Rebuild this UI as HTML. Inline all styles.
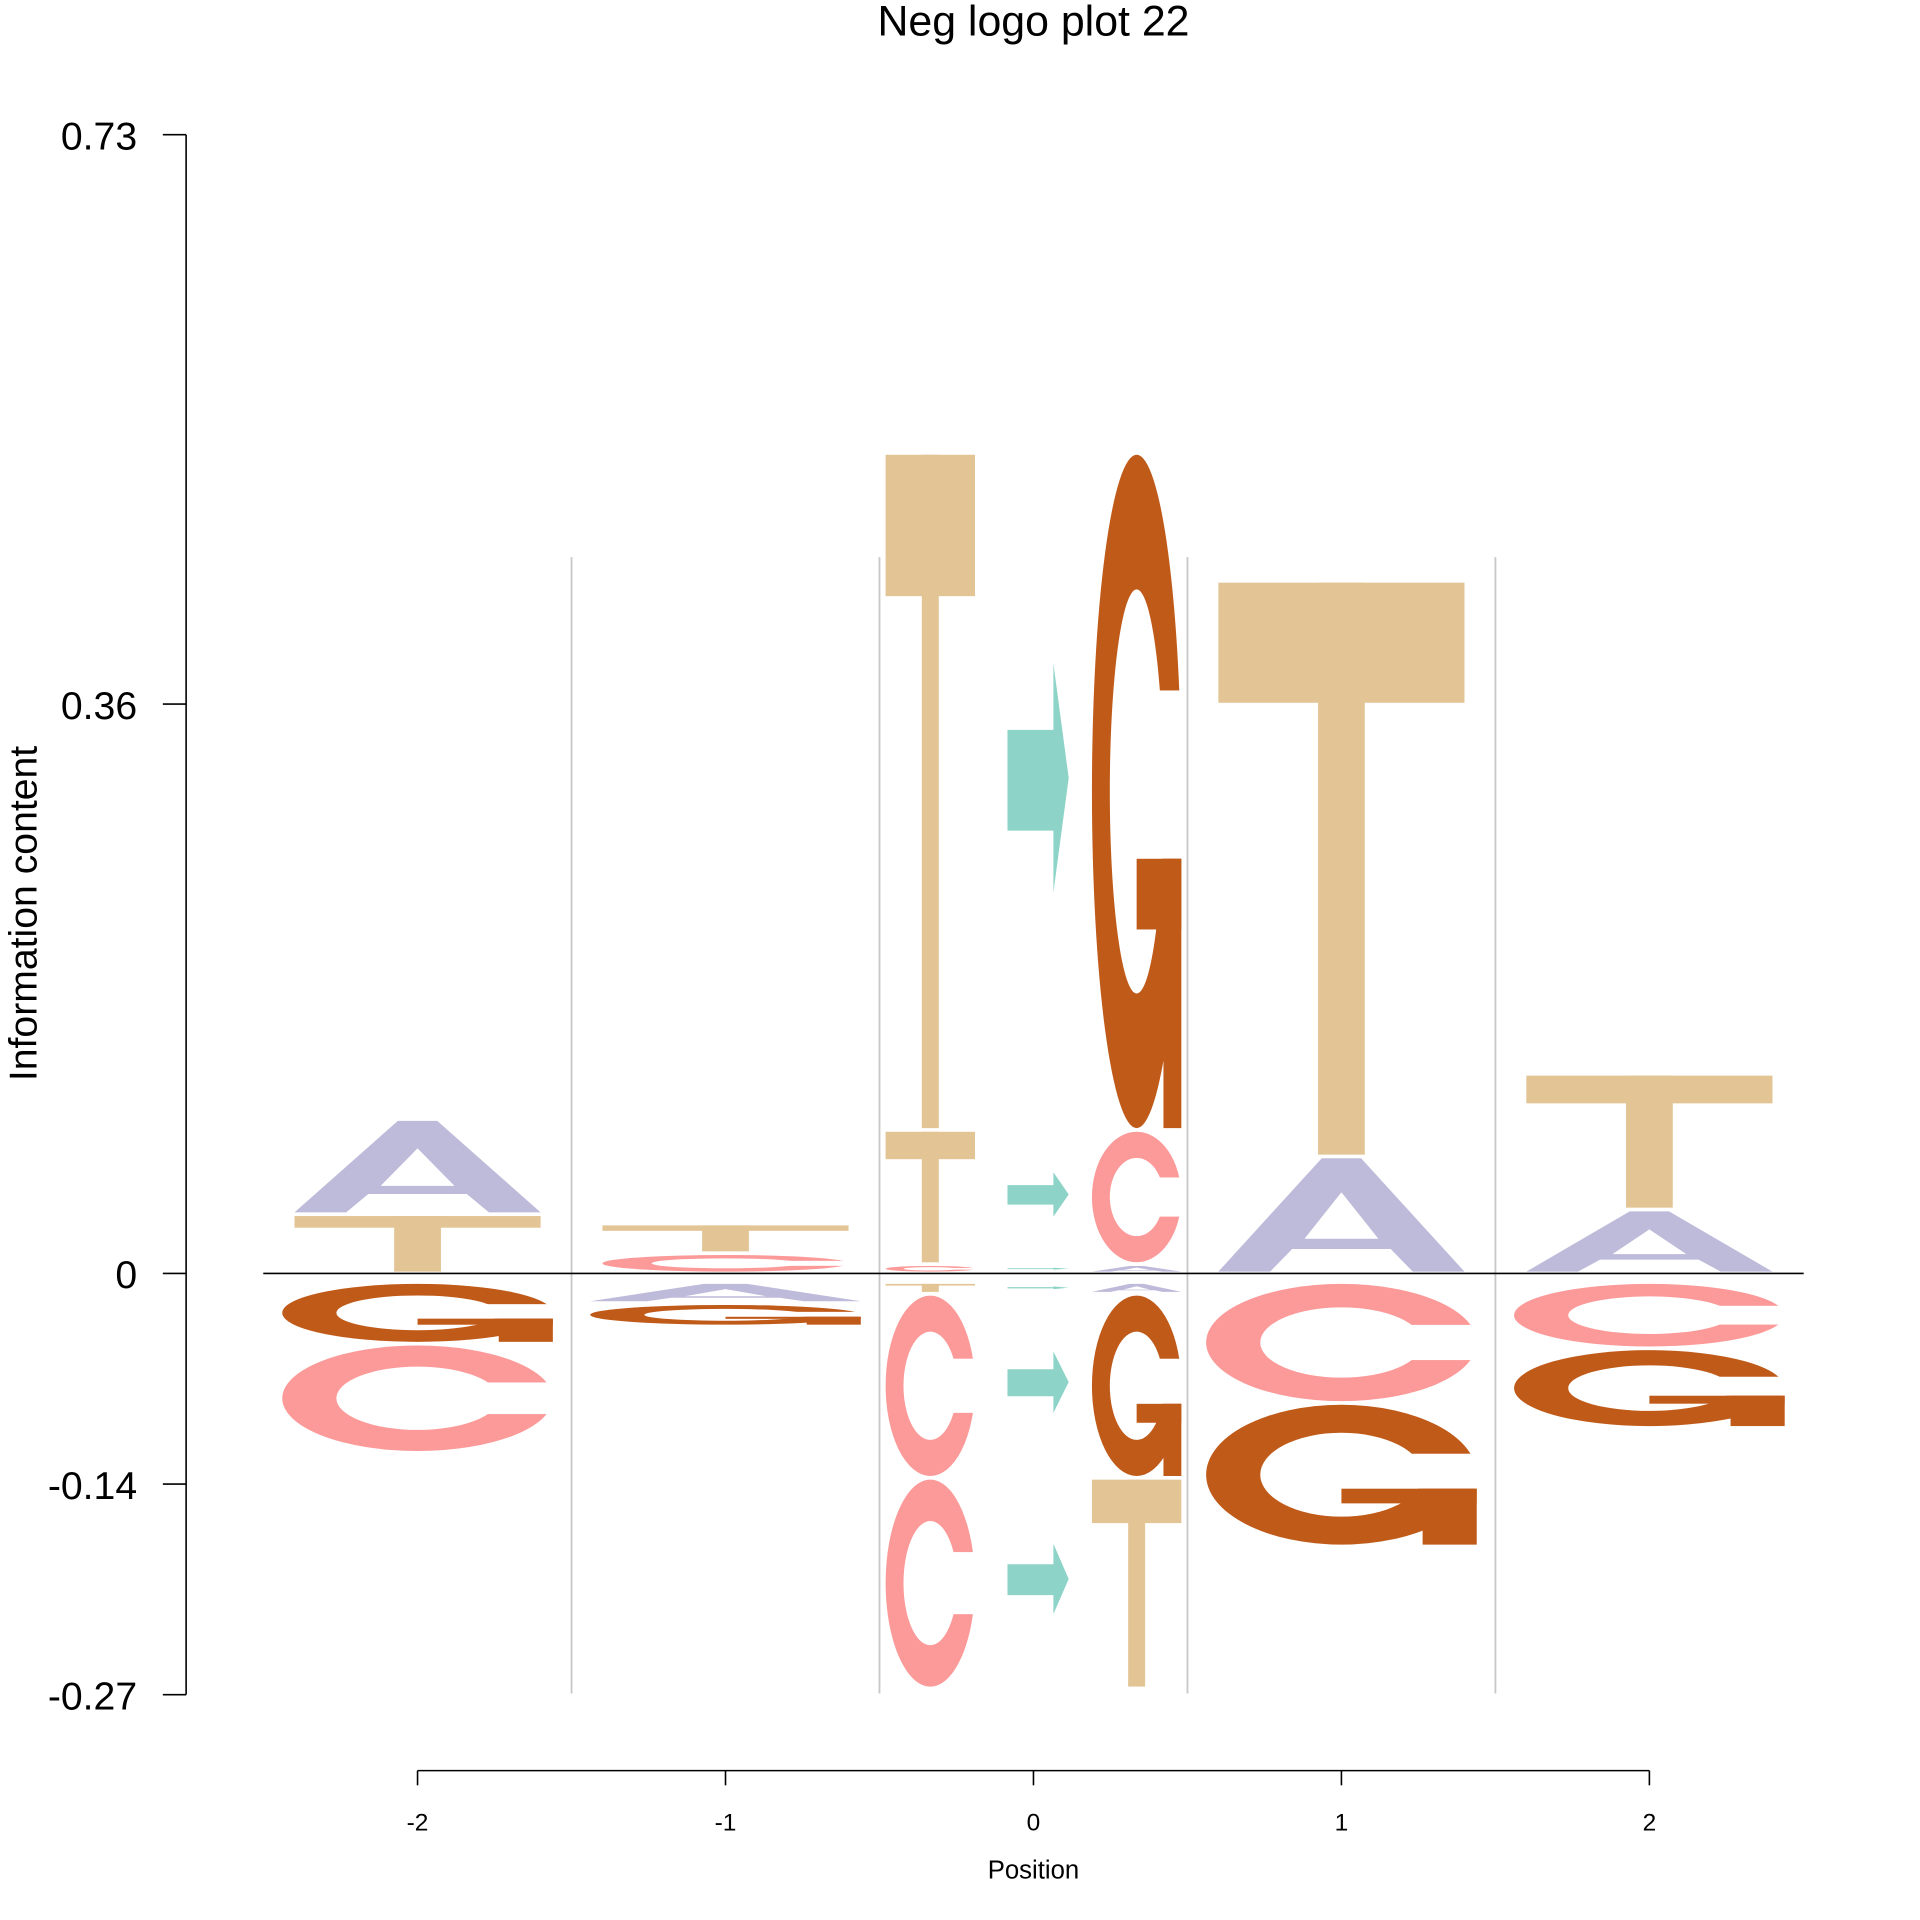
<!DOCTYPE html>
<html><head><meta charset="utf-8"><style>html,body{margin:0;padding:0;background:#fff}svg{display:block}</style></head>
<body>
<svg id="chart" width="1920" height="1920" viewBox="0 0 1568 1568" xmlns="http://www.w3.org/2000/svg" font-family="'Liberation Sans', Arial, sans-serif">
<text x="844" y="29" text-anchor="middle" font-size="35">Neg logo plot 22</text>
<text transform="translate(30,746) rotate(-90)" text-anchor="middle" font-size="32">Information content</text>
<text x="844" y="1534" text-anchor="middle" font-size="21">Position</text>
<g id="grid"></g><g id="marks"></g><g id="axes"></g>
</svg>
<script>
const positions = [-2, -1, -0.335, 0.015, 0.335, 1, 2];
const posLetters = [["T","A"],["C","T"],["C","T","T"],["R","R","R"],["A","C","G"],["A","T"],["A","T"]];
const posHeights = [[0.038,0.061],[0.013,0.019],[0.006,0.086,0.434],[0.006,0.086,0.434],[0.006,0.086,0.434],[0.075,0.369],[0.041,0.087]];
const negLetters = [["G","C"],["A","G"],["T","C","C"],["R","R","R"],["A","G","T"],["C","G"],["C","G"]];
const negHeights = [[0.045,0.07],[0.019,0.015],[0.013,0.118,0.135],[0.013,0.118,0.135],[0.013,0.118,0.135],[0.083,0.092],[0.048,0.051]];
const yTicks = [0.73, 0.365, 0, -0.135, -0.27];
const yTickLabels = ["0.73","0.36","0","-0.14","-0.27"];
const xTicks = [-2, -1, 0, 1, 2];
const xTickLabels = ["-2","-1","0","1","2"];
const gridPos = [-1.5, -0.5, 0.5, 1.5];

const NS = "http://www.w3.org/2000/svg";
const yScale = v => 1040 - v * (930 / 0.73);
const xScale = p => 844 + p * 251.5;
const colors = {T:"#E3C595", A:"#BEBADA", C:"#FB9A99", G:"#C05A19", R:"#8DD3C7"};
function mk(tag, attrs, parent){ const e=document.createElementNS(NS,tag); for(const k in attrs) e.setAttribute(k,attrs[k]); parent.appendChild(e); return e; }

const grid=document.getElementById('grid'), marks=document.getElementById('marks'), axes=document.getElementById('axes');
gridPos.forEach(g=>{
  const l=mk('line',{x1:xScale(g),x2:xScale(g),y1:455,y2:1383,stroke:'#c8c8c8','stroke-width':1.5},grid);
  
  
});

function glyph(letter, cx, w, top, bot, name){
  const g=mk('g',{},marks);
  
  
  const x0=cx-w/2, h=bot-top, col=colors[letter];
  if(h<=0) return;
  const X=f=>x0+f*w, Y=f=>top+f*h;
  if(letter==='T'){
    mk('rect',{x:x0,y:top,width:w,height:h*0.21,fill:col},g);
    mk('rect',{x:X(0.405),y:top,width:w*0.19,height:h,fill:col},g);
  } else if(letter==='A'){
    mk('path',{d:`M${X(0)},${Y(1)} L${X(0.42)},${Y(0)} L${X(0.58)},${Y(0)} L${X(1)},${Y(1)} L${X(0.79)},${Y(1)} L${X(0.7)},${Y(0.8)} L${X(0.3)},${Y(0.8)} L${X(0.21)},${Y(1)} Z M${X(0.35)},${Y(0.71)} L${X(0.5)},${Y(0.3)} L${X(0.65)},${Y(0.71)} Z`,fill:col,'fill-rule':'evenodd'},g);
  } else if(letter==='C' || letter==='G'){
    const cx2=x0+w/2, cy=top+h/2;
    mk('path',{d:`M${cx2-w/2},${cy} a${w/2},${h/2} 0 1,0 ${w},0 a${w/2},${h/2} 0 1,0 ${-w},0 Z M${cx2-w*0.3},${cy} a${w*0.3},${h*0.3} 0 1,0 ${w*0.6},0 a${w*0.3},${h*0.3} 0 1,0 ${-w*0.6},0 Z`,fill:col,'fill-rule':'evenodd'},g);
    if(letter==='C'){
      mk('rect',{x:X(0.74),y:Y(0.35),width:w*0.27,height:h*0.3,fill:'#fff'},g);
    } else {
      mk('rect',{x:X(0.74),y:Y(0.35),width:w*0.27,height:h*0.25,fill:'#fff'},g);
      mk('rect',{x:X(0.5),y:Y(0.6),width:w*0.5,height:h*0.105,fill:col},g);
      mk('rect',{x:X(0.8),y:Y(0.6),width:w*0.2,height:h*0.4,fill:col},g);
    }
  } else if(letter==='R'){
    const t=top+h*0.31, b=top+h*0.65, hh=b-t;
    mk('path',{d:`M${x0},${t+hh*0.29} L${X(0.75)},${t+hh*0.29} L${X(0.75)},${t} L${X(1)},${t+hh*0.5} L${X(0.75)},${b} L${X(0.75)},${t+hh*0.73} L${x0},${t+hh*0.73} Z`,fill:col},g);
  }
}

positions.forEach((p,i)=>{
  const cx=xScale(p);
  const narrow = (i>=2 && i<=4);
  const wp = i===3 ? 50 : (narrow ? 73 : 201);
  const wn = i===3 ? 50 : (narrow ? 73 : 221);
  let cum=0;
  posLetters[i].forEach((L,j)=>{
    const v0=cum, v1=cum+posHeights[i][j]; cum=v1;
    glyph(L,cx,wp,yScale(v1)+1.5,yScale(v0)-1.5,'pos-letter-'+L);
  });
  cum=0;
  negLetters[i].forEach((L,j)=>{
    const v0=cum, v1=cum-negHeights[i][j]; cum=v1;
    glyph(L,cx,wn,yScale(v0)+1.5+ (j===0?7:0),yScale(v1)-1.5,'neg-letter-'+L);
  });
});

const zl=mk('line',{x1:215,x2:1473,y1:yScale(0),y2:yScale(0),stroke:'#000','stroke-width':1.3},axes);


const ya=mk('line',{x1:152,x2:152,y1:yScale(yTicks[0]),y2:yScale(yTicks[yTicks.length-1]),stroke:'#000','stroke-width':1.3},axes);


yTicks.forEach((t,i)=>{
  const y=yScale(t);
  const tk=mk('line',{x1:133,x2:152,y1:y,y2:y,stroke:'#000','stroke-width':1.3},axes);
  
  
  const tx=mk('text',{x:112,y:y+12,'text-anchor':'end','font-size':32},axes);
  tx.textContent=yTickLabels[i];
  
  
});
const xa=mk('line',{x1:xScale(xTicks[0]),x2:xScale(xTicks[xTicks.length-1]),y1:1446,y2:1446,stroke:'#000','stroke-width':1.3},axes);


xTicks.forEach((t,i)=>{
  const x=xScale(t);
  const tk=mk('line',{x1:x,x2:x,y1:1446,y2:1458,stroke:'#000','stroke-width':1.3},axes);
  
  
  const tx=mk('text',{x:x,y:1495,'text-anchor':'middle','font-size':20},axes);
  tx.textContent=xTickLabels[i];
  
  
});
</script>
</body></html>
